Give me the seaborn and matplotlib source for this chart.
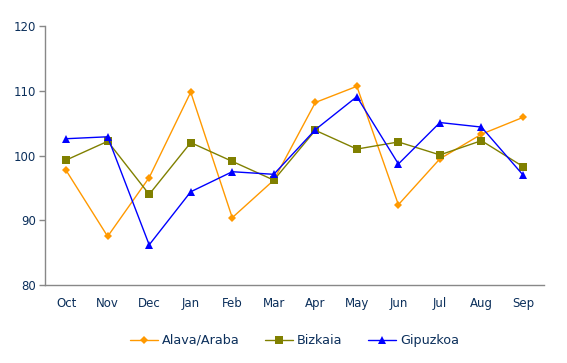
import pandas as pd
import matplotlib.pyplot as plt
import seaborn as sns

# monthly index values
months = ['Oct', 'Nov', 'Dec', 'Jan', 'Feb', 'Mar', 'Apr', 'May', 'Jun', 'Jul', 'Aug', 'Sep']
alava = [97.7, 87.5, 96.6, 109.8, 90.4, 96.2, 108.2, 110.7, 92.4, 99.5, 103.3, 105.9]
bizkaia = [99.3, 102.2, 94.0, 102.0, 99.1, 96.2, 103.9, 101.0, 102.1, 100.1, 102.3, 98.3]
gipuzkoa = [102.6, 102.9, 86.2, 94.4, 97.5, 97.1, 104.0, 109.1, 98.7, 105.1, 104.4, 97.0]

df = pd.DataFrame({'Month': months, 'Alava/Araba': alava,
                   'Bizkaia': bizkaia, 'Gipuzkoa': gipuzkoa})
df_long = df.melt(id_vars='Month', var_name='Region', value_name='Value')

sns.set_style('white')
plt.rcParams['font.family'] = ['DejaVu Sans']

fig = plt.figure(figsize=(5.67, 3.63), dpi=100)
ax = fig.add_axes([0.080, 0.215, 0.879, 0.713])

palette = {'Alava/Araba': '#FF9900', 'Bizkaia': '#808000', 'Gipuzkoa': '#0000FF'}
markers = {'Alava/Araba': 'D', 'Bizkaia': 's', 'Gipuzkoa': '^'}
sizes = {'Alava/Araba': 4, 'Bizkaia': 5.5, 'Gipuzkoa': 6}

for region in ['Alava/Araba', 'Bizkaia', 'Gipuzkoa']:
    sub = df_long[df_long['Region'] == region]
    sns.lineplot(data=sub, x='Month', y='Value', ax=ax, sort=False,
                 color=palette[region], marker=markers[region],
                 markersize=sizes[region], markeredgewidth=0,
                 linewidth=1, label=region)

ax.set_xlim(-0.5, 11.5)
ax.set_ylim(80, 120)
ax.set_yticks([80, 90, 100, 110, 120])
ax.set_xlabel('')
ax.set_ylabel('')

for side in ['top', 'right']:
    ax.spines[side].set_visible(False)
for side in ['left', 'bottom']:
    ax.spines[side].set_color('#888888')
    ax.spines[side].set_linewidth(1)

ax.tick_params(axis='y', length=4, width=1, color='#888888', direction='out',
               labelsize=8.5, labelcolor='#0B2F5B', left=True, pad=3)
ax.tick_params(axis='x', length=0, labelsize=8.5, labelcolor='#0B2F5B', pad=9)

leg = ax.legend(loc='upper center', bbox_to_anchor=(0.5, -0.145), ncol=3,
                frameon=False, fontsize=9.2, handlelength=2.2,
                columnspacing=2.0, handletextpad=0.3)
for t in leg.get_texts():
    t.set_color('#0B2F5B')

fig.savefig('out.png', dpi=100)
